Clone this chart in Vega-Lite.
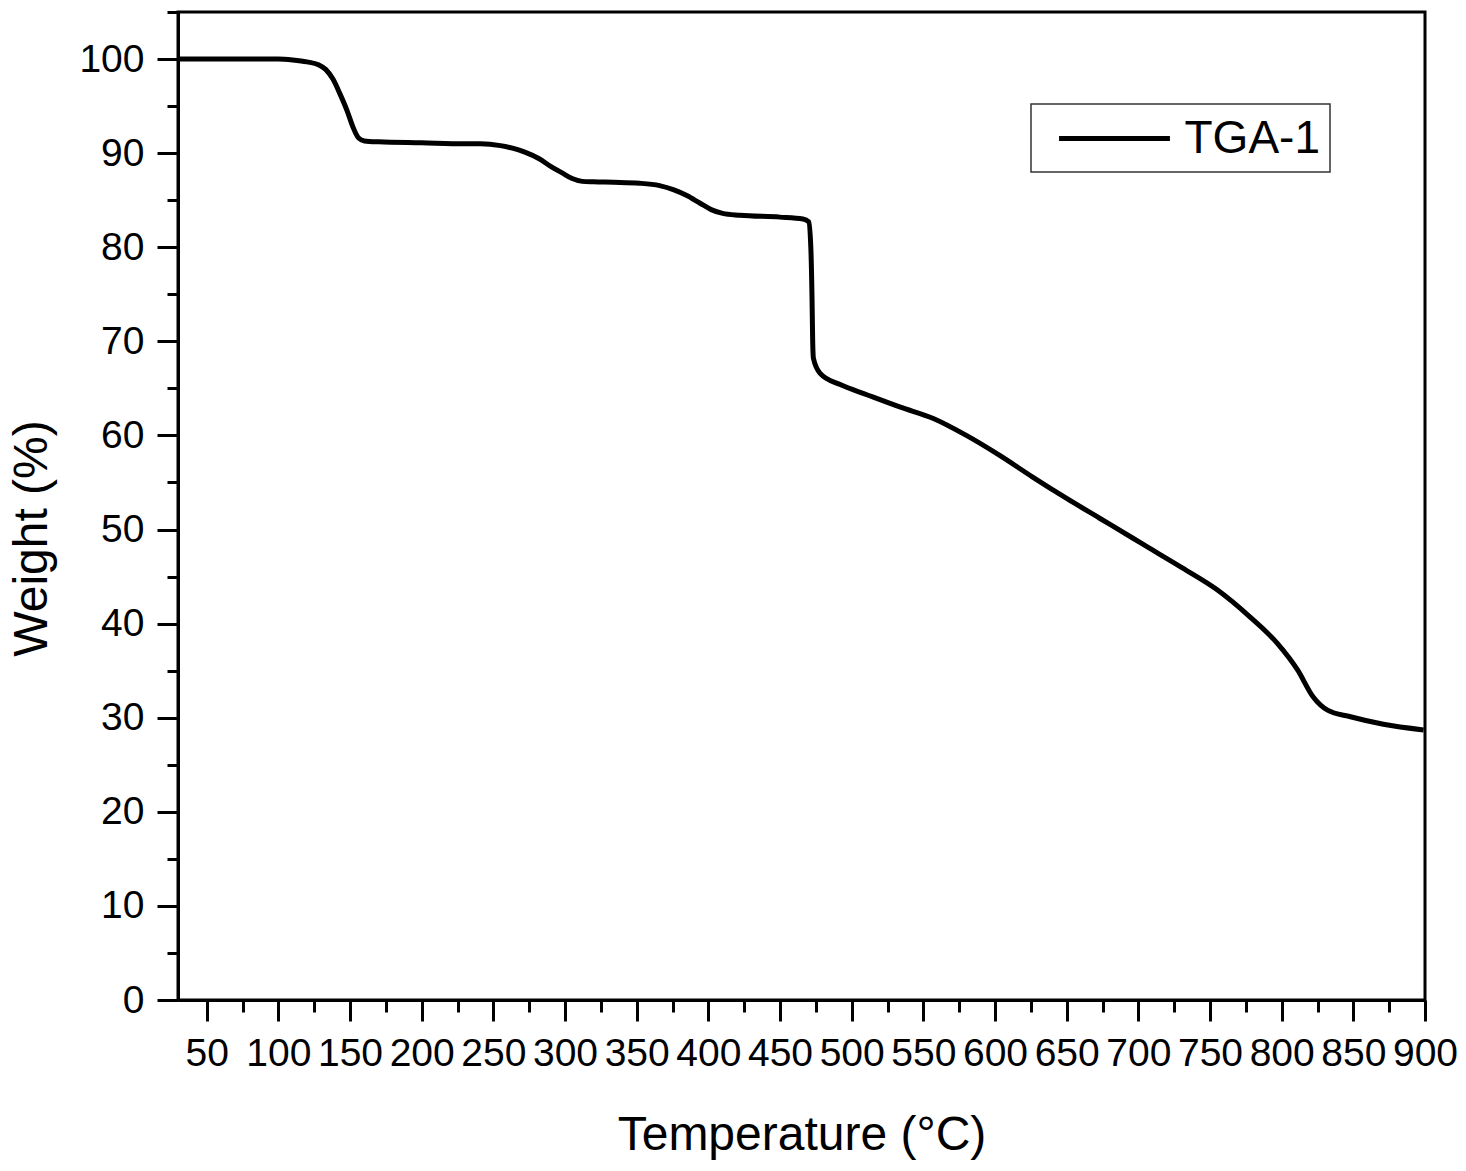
{
  "$schema": "https://vega.github.io/schema/vega-lite/v6.json",
  "description": "TGA curve",
  "autosize": {"type": "none"},
  "padding": {"left": 178, "top": 12, "right": 41, "bottom": 171},
  "width": 1247,
  "height": 988,
  "background": "white",
  "data": {
    "values": [
      {"T": 30, "W": 100.0}, {"T": 50, "W": 100.0}, {"T": 80, "W": 100.0},
      {"T": 100, "W": 100.0}, {"T": 110, "W": 99.9}, {"T": 120, "W": 99.7},
      {"T": 128, "W": 99.4}, {"T": 133, "W": 98.9}, {"T": 138, "W": 97.9},
      {"T": 143, "W": 96.3}, {"T": 148, "W": 94.5}, {"T": 152, "W": 92.8},
      {"T": 156, "W": 91.6}, {"T": 160, "W": 91.3}, {"T": 170, "W": 91.2},
      {"T": 200, "W": 91.1}, {"T": 230, "W": 91.0}, {"T": 241, "W": 91.0},
      {"T": 255, "W": 90.8}, {"T": 264, "W": 90.5}, {"T": 272, "W": 90.1},
      {"T": 282, "W": 89.4}, {"T": 290, "W": 88.6}, {"T": 298, "W": 87.9},
      {"T": 305, "W": 87.3}, {"T": 312, "W": 87.0}, {"T": 320, "W": 86.95},
      {"T": 334, "W": 86.9}, {"T": 352, "W": 86.8}, {"T": 366, "W": 86.55},
      {"T": 376, "W": 86.1}, {"T": 385, "W": 85.5}, {"T": 394, "W": 84.7},
      {"T": 402, "W": 84.0}, {"T": 410, "W": 83.6}, {"T": 422, "W": 83.4},
      {"T": 450, "W": 83.2}, {"T": 466, "W": 83.0}, {"T": 470, "W": 82.7},
      {"T": 471.5, "W": 80.0}, {"T": 472.3, "W": 75.0}, {"T": 472.8, "W": 70.0},
      {"T": 473.3, "W": 68.2}, {"T": 478, "W": 66.6}, {"T": 492, "W": 65.4},
      {"T": 511, "W": 64.3}, {"T": 534, "W": 63.0}, {"T": 557, "W": 61.8},
      {"T": 580, "W": 60.0}, {"T": 603, "W": 57.9}, {"T": 626, "W": 55.6},
      {"T": 650, "W": 53.3}, {"T": 673, "W": 51.2}, {"T": 696, "W": 49.1},
      {"T": 708, "W": 48.0}, {"T": 731, "W": 45.9}, {"T": 755, "W": 43.6},
      {"T": 778, "W": 40.7}, {"T": 797, "W": 37.9}, {"T": 811, "W": 35.1},
      {"T": 822, "W": 32.2}, {"T": 832, "W": 30.8}, {"T": 848, "W": 30.1},
      {"T": 871, "W": 29.3}, {"T": 899, "W": 28.7}
    ]
  },
  "mark": {"type": "line", "interpolate": "monotone", "strokeWidth": 5},
  "encoding": {
    "x": {
      "field": "T",
      "type": "quantitative",
      "scale": {"domain": [30, 900], "nice": false, "zero": false},
      "axis": {
        "title": "Temperature (°C)",
        "values": [50, 75, 100, 125, 150, 175, 200, 225, 250, 275, 300, 325, 350, 375, 400, 425, 450, 475, 500, 525, 550, 575, 600, 625, 650, 675, 700, 725, 750, 775, 800, 825, 850, 875, 900],
        "labelExpr": "datum.value % 50 === 0 ? datum.label : ''",
        "tickSize": {"condition": {"test": "datum.value % 50 !== 0", "value": 12}, "value": 21},
        "labelPadding": 13,
        "titlePadding": 38
      }
    },
    "y": {
      "field": "W",
      "type": "quantitative",
      "scale": {"domain": [0, 105], "nice": false},
      "axis": {
        "title": "Weight (%)",
        "values": [0, 5, 10, 15, 20, 25, 30, 35, 40, 45, 50, 55, 60, 65, 70, 75, 80, 85, 90, 95, 100, 105],
        "labelExpr": "datum.value % 10 === 0 ? datum.label : ''",
        "tickSize": {"condition": {"test": "datum.value % 10 !== 0", "value": 11}, "value": 21},
        "labelPadding": 13,
        "titlePadding": 22,
        "titleY": 526
      }
    },
    "color": {
      "datum": "TGA-1",
      "scale": {"range": ["black"]},
      "legend": {
        "orient": "none",
        "legendX": 853,
        "legendY": 92,
        "title": null,
        "symbolType": "M-2.52,0H2.52",
        "symbolSize": 1936,
        "symbolStrokeWidth": 5,
        "symbolOffset": 49,
        "labelOffset": 45.5,
        "padding": 10
      }
    }
  },
  "config": {
    "font": "Liberation Sans",
    "view": {"stroke": "black", "strokeWidth": 3},
    "axis": {
      "grid": false,
      "domainColor": "black",
      "domainWidth": 3,
      "tickColor": "black",
      "tickWidth": 3,
      "labelFont": "Liberation Sans",
      "labelFontSize": 39,
      "labelColor": "black",
      "labelFlush": false,
      "labelOverlap": false,
      "labelBound": false,
      "titleFont": "Liberation Sans",
      "titleFontSize": 48,
      "titleFontWeight": "normal",
      "titleColor": "black"
    },
    "legend": {
      "labelFont": "Liberation Sans",
      "labelFontSize": 46,
      "labelColor": "black",
      "strokeColor": "#333",
      "strokeWidth": 1.5
    }
  }
}
